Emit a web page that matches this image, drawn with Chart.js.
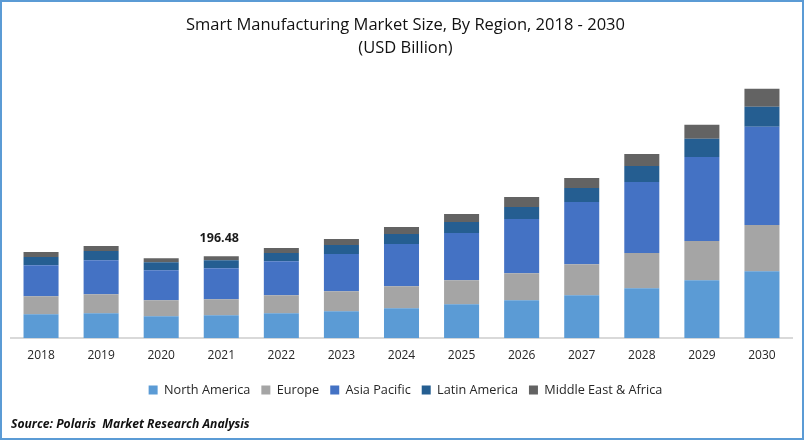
<!DOCTYPE html>
<html lang="en">
<head>
    <meta charset="UTF-8">
    <title>Smart Manufacturing Market Size</title>
    <script src="https://cdnjs.cloudflare.com/ajax/libs/Chart.js/4.4.1/chart.umd.js"></script>
    <style>
        html, body { margin: 0; padding: 0; background: #fff; }
        #wrap { position: relative; width: 804px; height: 440px; }
        #frame { position: absolute; left: 0; top: 0; width: 804px; height: 440px; box-sizing: border-box; border: 2px solid #5b9bd5; pointer-events: none; }
        canvas { display: block; }
    </style>
</head>
<body>
    <div id="wrap">
        <canvas id="myChart" width="804" height="440"></canvas>
        <div id="frame"></div>
    </div>
    <script>
    const years = ["2018", "2019", "2020", "2021", "2022", "2023", "2024", "2025", "2026", "2027", "2028", "2029", "2030"];
    const northAmerica = [57.5, 59.9, 52.7, 55.1, 59.9, 64.7, 71.9, 81.5, 91.0, 103.0, 119.8, 139.0, 160.5];
    const europe = [43.1, 45.5, 38.3, 38.3, 43.1, 47.9, 52.7, 57.5, 64.7, 74.3, 83.9, 93.4, 110.2];
    const asiaPacific = [74.3, 81.5, 71.9, 74.3, 81.5, 88.7, 100.6, 112.6, 129.4, 148.6, 170.1, 201.3, 234.8];
    const latinAmerica = [19.2, 21.6, 19.2, 19.2, 19.2, 21.6, 24.0, 26.4, 28.8, 33.5, 38.3, 43.1, 47.9];
    const middleEast = [12.0, 12.0, 9.6, 9.58, 12.0, 14.4, 16.8, 19.2, 24.0, 24.0, 28.8, 33.5, 43.1];
    const labelYear = "2021";
    const labelText = "196.48";

    const fontName = "'Open Sans'";

    // writes the one total that the picture shows, above its bar
    const totalLabel = {
        id: "totalLabel",
        afterDatasetsDraw(chart) {
            const i = years.indexOf(labelYear);
            const bar = chart.getDatasetMeta(4).data[i];
            const ctx = chart.ctx;
            ctx.save();
            ctx.font = "bold 12.5px " + fontName;
            ctx.fillStyle = "#1a1a1a";
            ctx.textAlign = "center";
            ctx.textBaseline = "bottom";
            ctx.fillText(labelText, bar.x - 2, bar.y - 11);
            ctx.restore();
        }
    };

    function makeSet(label, data, color) {
        return { label: label, data: data, backgroundColor: color, borderWidth: 0, stack: "a", categoryPercentage: 1, barPercentage: 0.583 };
    }

    new Chart(document.getElementById("myChart"), {
        type: "bar",
        data: {
            labels: years,
            datasets: [
                makeSet("North America", northAmerica, "#5b9bd5"),
                makeSet("Europe", europe, "#a5a5a5"),
                makeSet("Asia Pacific", asiaPacific, "#4472c4"),
                makeSet("Latin America", latinAmerica, "#255e91"),
                makeSet("Middle East & Africa", middleEast, "#636363")
            ]
        },
        plugins: [totalLabel],
        options: {
            responsive: false,
            animation: false,
            layout: { padding: { left: 11, right: 4, top: 14, bottom: 8 } },
            scales: {
                x: {
                    stacked: true,
                    grid: { display: false, drawTicks: false },
                    border: { color: "#d9d9d9", width: 2 },
                    ticks: { color: "#262626", font: { family: fontName, size: 12 }, padding: 10 }
                },
                // hidden axis on the right, keeps the plot short of the title centre
                y: {
                    stacked: true,
                    position: "right",
                    min: 0,
                    max: 650.5,
                    ticks: { display: false },
                    grid: { display: false, drawTicks: false },
                    border: { display: false },
                    afterFit(scale) { scale.width = 8; }
                }
            },
            plugins: {
                tooltip: { enabled: false },
                title: {
                    display: true,
                    text: ["Smart Manufacturing Market Size, By Region, 2018 - 2030", "(USD Billion)"],
                    color: "#111",
                    font: { family: fontName, size: 16.5, weight: "normal", lineHeight: 1.4 },
                    padding: { top: 0, bottom: 6 }
                },
                legend: {
                    position: "bottom",
                    labels: { boxWidth: 9, boxHeight: 9, padding: 11, color: "#262626", font: { family: fontName, size: 12.7 } }
                },
                subtitle: {
                    display: true,
                    position: "bottom",
                    align: "start",
                    text: "Source: Polaris  Market Research Analysis",
                    color: "#111",
                    font: { family: fontName, size: 12.15, weight: "bold", style: "italic" },
                    padding: { top: 11, bottom: 0 }
                }
            }
        }
    });
    </script>
</body>
</html>
